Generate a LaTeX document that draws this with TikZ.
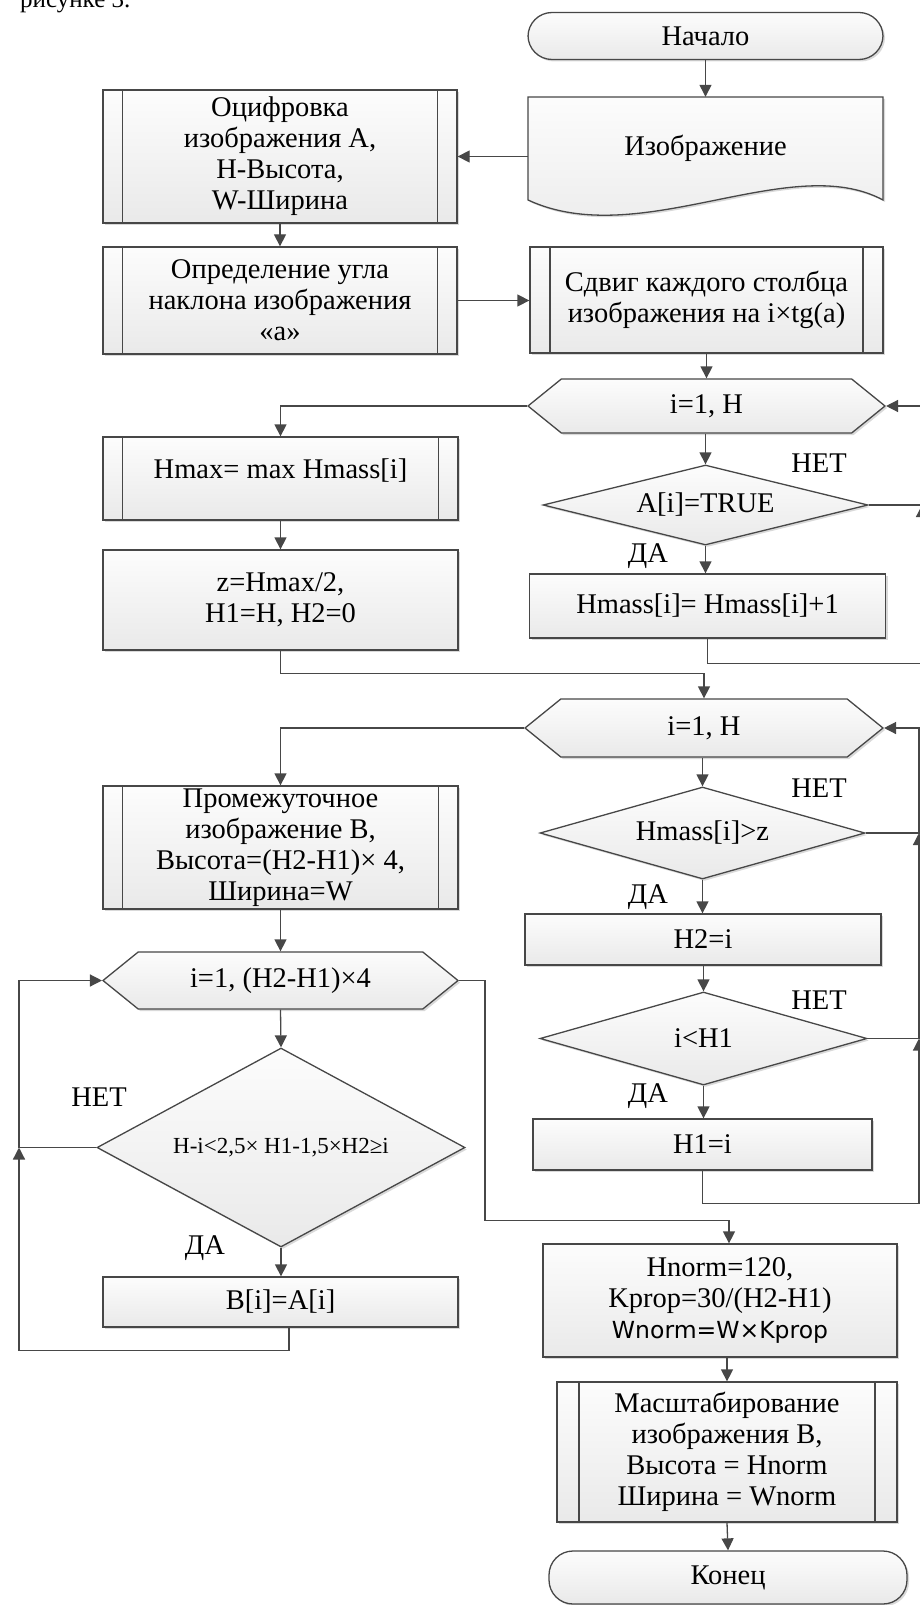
\documentclass[tikz,border=0pt]{standalone}
\usepackage{fontspec}
\setmainfont{Liberation Serif}
\newfontfamily\sansfont{DejaVu Sans}
\usetikzlibrary{shapes.geometric,shapes.symbols,shadows,arrows.meta,calc}
\begin{document}
\begin{tikzpicture}[x=1pt,y=-1pt,
  line/.style={draw=black!72,line width=1.3pt},
  arr/.style={line,-{Triangle[length=12pt,width=12pt]}},
  shade/.style={line,top color=gray!2,bottom color=gray!17,
    drop shadow={shadow xshift=2pt,shadow yshift=-2pt,fill=black,opacity=.15}},
  lab/.style={inner sep=0pt,align=center,font=\fontsize{28.5}{31}\selectfont},
  box/.style={shade,lab,rectangle},
  subbox/.style={box,path picture={
    \draw[line] ([xshift=#1]path picture bounding box.north west) -- ([xshift=#1]path picture bounding box.south west)
      ([xshift=-#1]path picture bounding box.north east) -- ([xshift=-#1]path picture bounding box.south east);}},
  subbox/.default=19.5pt,
  term/.style={box,rounded corners=24pt},
  prep/.style={shade,lab,signal,signal to=west and east,signal pointer angle=78},
  dec/.style={shade,lab,diamond,shape aspect=#1}]
\useasboundingbox (0,0) rectangle (920,1605);
\node[lab,anchor=base west,font=\fontsize{25}{30}\selectfont] (cap) at (20,8) {рисунке 3.};
\node[term,minimum width=355pt,minimum height=47pt] (start) at (705.5,36) {Начало};
\draw[shade] (528,97) -- (883,97) -- (883,200) .. controls (790,150) and (640,252) .. (528,200) -- cycle;
\node[lab,minimum width=355pt,minimum height=103pt] (doc) at (705.5,148.5) {Изображение};
\node[subbox,minimum width=354pt,minimum height=133pt] (dig) at (280,156.5) {Оцифровка\\изображения А,\\H-Высота,\\W-Ширина};
\node[subbox,minimum width=354pt,minimum height=107pt] (angle) at (280,300.5) {Определение угла\\наклона изображения\\«a»};
\node[subbox=20pt,minimum width=353pt,minimum height=106pt] (shift) at (706.5,300) {Сдвиг каждого столбца\\изображения на i×tg(a)};
\node[prep,minimum width=357pt,minimum height=54pt] (c1) at (706.5,406) {i=1, H};
\node[subbox,minimum width=355pt,minimum height=83pt,text height=20pt,text depth=20pt] (hmax) at (280.5,478.5) {Hmax= max Hmass[i]};
\node[dec=4,minimum width=325pt,minimum height=80pt] (q1) at (705.5,505) {A[i]=TRUE};
\node[box,minimum width=356pt,minimum height=64pt] (hmass) at (707.5,606) {Hmass[i]= Hmass[i]+1};
\node[box,minimum width=355pt,minimum height=100pt] (zbox) at (280.5,600) {z=Hmax/2,\\ H1=H, H2=0};
\node[prep,minimum width=358pt,minimum height=58pt] (c2) at (704,728) {i=1, H};
\node[subbox,minimum width=355pt,minimum height=123pt] (mid) at (280.5,847.5) {Промежуточное\\изображение B,\\Высота=(H2-H1)× 4,\\Ширина=W};
\node[dec=3.5,minimum width=325pt,minimum height=92pt] (q2) at (702.5,833) {Hmass[i]>z};
\node[box,minimum width=356pt,minimum height=51pt] (h2set) at (703,939.5) {H2=i};
\node[prep,minimum width=355pt,minimum height=57pt] (c3) at (280.5,980.5) {i=1, (H2-H1)×4};
\node[dec=3.5,minimum width=327pt,minimum height=93pt] (q3) at (703.5,1038.5) {i<H1};
\node[box,minimum width=339pt,minimum height=51pt] (h1set) at (702.5,1144.5) {H1=i};
\node[dec=1.85,minimum width=368pt,minimum height=199pt,font=\fontsize{23}{26}\selectfont] (q4) at (281,1147.5) {H-i<2,5× H1-1,5×H2≥i};
\node[box,minimum width=355pt,minimum height=50pt] (bset) at (280.5,1302) {B[i]=A[i]};
\node[box,minimum width=354pt,minimum height=113pt] (norm) at (720,1300.5) {Hnorm=120,\\Kprop=30/(H2-H1)\\{\sansfont\fontsize{23.5}{31}\selectfont Wnorm=W×Kprop}};
\node[subbox=22pt,minimum width=340pt,minimum height=140pt] (scale) at (727,1452) {Масштабирование\\изображения B,\\Высота = Hnorm\\Ширина = Wnorm};
\node[term,minimum width=358pt,minimum height=53pt] (stop) at (728,1577.5) {Конец};
\node[lab] (n1) at (819,463) {НЕТ};
\node[lab] (y1) at (648,556) {ДА};
\node[lab] (n2) at (819,788) {НЕТ};
\node[lab] (y2) at (648,897) {ДА};
\node[lab] (n3) at (819,1000) {НЕТ};
\node[lab] (y3) at (648,1096) {ДА};
\node[lab] (n4) at (99,1097) {НЕТ};
\node[lab] (y4) at (205,1248) {ДА};
\coordinate (r1) at (922,0);
\coordinate (r2) at (919,0);
\coordinate (l1) at (19,0);
\draw[arr] (start.south) -- (doc.north);
\draw[arr] (doc.west |- dig.east) -- (dig.east);
\draw[arr] (dig.south) -- (angle.north);
\draw[arr] (angle.east) -- (angle.east -| shift.west);
\draw[arr] (shift.south) -- (c1.north);
\draw[arr] (c1.west) -| (hmax.north);
\draw[arr] (hmax.south) -- (zbox.north);
\draw[arr] (zbox.south) -- ++(0,23) -| (c2.north);
\draw[arr] (q1.north |- c1.south) -- (q1.north);
\draw[arr] (q1.south) -- (q1.south |- hmass.north);
\draw[arr] (q1.east) -- (q1.east -| r1) |- (c1.east);
\draw[arr] (hmass.south) -- ++(0,25) -| (q1.east -| r1);
\draw[arr] (c2.west) -| (mid.north);
\draw[arr] (q2.north |- c2.south) -- (q2.north);
\draw[arr] (q2.south) -- (q2.south |- h2set.north);
\draw[arr] (q3.north |- h2set.south) -- (q3.north);
\draw[arr] (q3.south) -- (q3.south |- h1set.north);
\draw[arr] (q2.east) -- (q2.east -| r2) |- (c2.east);
\draw[arr] (q3.east) -- (q3.east -| r2) -- (q2.east -| r2);
\draw[arr] (h1set.south) -- ++(0,33) -| (q3.east -| r2);
\draw[arr] (mid.south) -- (c3.north);
\draw[arr] (c3.south) -- (q4.north);
\draw[arr] (q4.south) -- (q4.south |- bset.north);
\draw[arr] (q4.west) -- (q4.west -| l1) |- (c3.west);
\draw[arr] ([xshift=8.5pt]bset.south) -- ++(0,23) -| (q4.west -| l1);
\draw[arr] (c3.east) -- ++(26,0) |- ($(norm.north)+(9,-23)$) -- ([xshift=9pt]norm.north);
\draw[arr] (scale.north |- norm.south) -- (scale.north);
\draw[arr] (scale.south) -- (stop.north);
\end{tikzpicture}
\end{document}
